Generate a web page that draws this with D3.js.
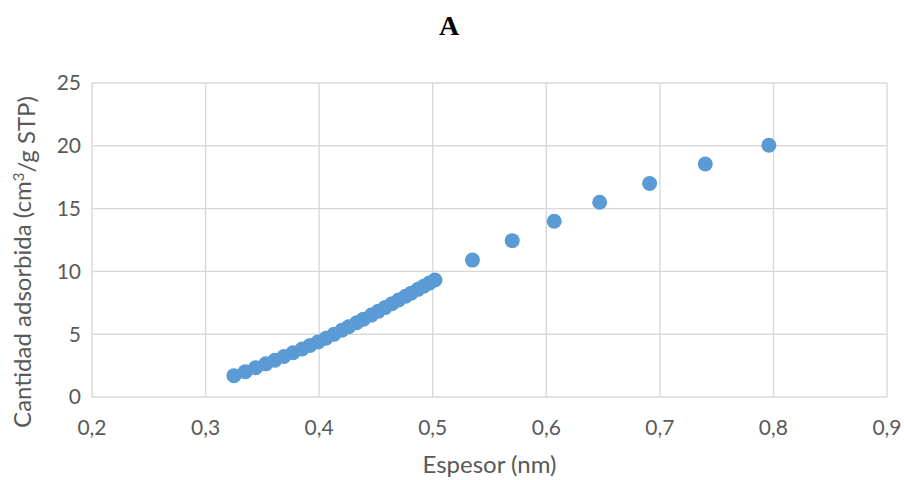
<!DOCTYPE html>
<html>
<head>
<meta charset="utf-8">
<script src="https://cdn.jsdelivr.net/npm/d3@7"></script>
<style>
  body { margin: 0; background: #fff; }
  svg { display: block; }
</style>
</head>
<body>
<svg id="chart"></svg>
<script>
// Chart data
const espesor = [
    0.325, 0.335, 0.344, 0.353, 0.361, 0.369, 0.377, 0.385, 0.392, 0.399,
    0.406, 0.413, 0.420, 0.426, 0.433, 0.439, 0.446, 0.452, 0.458, 0.464,
    0.470, 0.476, 0.481, 0.487, 0.492, 0.497, 0.502,
    0.535, 0.570, 0.607, 0.647, 0.691, 0.740, 0.796
];
const cantidad = [
    1.70, 2.02, 2.33, 2.64, 2.93, 3.22, 3.52, 3.82, 4.10, 4.38,
    4.68, 4.99, 5.31, 5.59, 5.91, 6.20, 6.52, 6.82, 7.12, 7.42,
    7.72, 8.02, 8.27, 8.57, 8.82, 9.07, 9.32,
    10.90, 12.45, 13.99, 15.50, 17.00, 18.55, 20.04
];
const xTicks = [0.2, 0.3, 0.4, 0.5, 0.6, 0.7, 0.8, 0.9];
const yTicks = [0, 5, 10, 15, 20, 25];

const width = 904;
const height = 480;
const margin = { top: 83, right: 17, bottom: 83, left: 92 };

const svg = d3.select("#chart")
    .attr("width", width)
    .attr("height", height);

const x = d3.scaleLinear()
    .domain([0.2, 0.9])
    .range([margin.left, width - margin.right]);

const y = d3.scaleLinear()
    .domain([0, 25])
    .range([height - margin.bottom, margin.top]);

const fmt = d => d3.format(".1f")(d).replace(".", ",");

// Grid lines
svg.append("g")
    .selectAll("line")
    .data(yTicks)
    .join("line")
    .attr("x1", x(0.2))
    .attr("x2", x(0.9))
    .attr("y1", d => y(d))
    .attr("y2", d => y(d))
    .attr("stroke", "#d9d9d9")
    .attr("stroke-width", 1.4);

svg.append("g")
    .selectAll("line")
    .data(xTicks)
    .join("line")
    .attr("x1", d => x(d))
    .attr("x2", d => x(d))
    .attr("y1", y(0))
    .attr("y2", y(25))
    .attr("stroke", "#d9d9d9")
    .attr("stroke-width", 1.4);

// Tick labels
svg.append("g")
    .selectAll("text")
    .data(yTicks)
    .join("text")
    .attr("x", x(0.2) - 11)
    .attr("y", d => y(d))
    .attr("dy", "0.35em")
    .attr("text-anchor", "end")
    .style("font-family", "Lato, sans-serif")
    .style("font-size", "21px")
    .style("fill", "#595959")
    .text(d => d);

svg.append("g")
    .selectAll("text")
    .data(xTicks)
    .join("text")
    .attr("x", d => x(d))
    .attr("y", y(0) + 38)
    .attr("text-anchor", "middle")
    .style("font-family", "Lato, sans-serif")
    .style("font-size", "21px")
    .style("fill", "#595959")
    .text(fmt);

// Points
svg.append("g")
    .selectAll("circle")
    .data(espesor.map((d, i) => [d, cantidad[i]]))
    .join("circle")
    .attr("cx", d => x(d[0]))
    .attr("cy", d => y(d[1]))
    .attr("r", 7.5)
    .attr("fill", "#5b9bd5");

// Title
svg.append("text")
    .attr("x", 449)
    .attr("y", 35)
    .attr("text-anchor", "middle")
    .style("font-family", "'Liberation Serif', 'Times New Roman', serif")
    .style("font-weight", "bold")
    .style("font-size", "28px")
    .style("fill", "#000")
    .text("A");

// Axis titles
svg.append("text")
    .attr("x", (x(0.2) + x(0.9)) / 2)
    .attr("y", 473)
    .attr("text-anchor", "middle")
    .style("font-family", "Lato, sans-serif")
    .style("font-size", "24px")
    .style("fill", "#595959")
    .text("Espesor (nm)");

const yTitle = svg.append("text")
    .attr("transform", `translate(31, ${(y(0) + y(25)) / 2 + 22}) rotate(-90)`)
    .attr("text-anchor", "middle")
    .style("font-family", "Lato, sans-serif")
    .style("font-size", "24px")
    .style("fill", "#595959");
yTitle.append("tspan").text("Cantidad adsorbida (cm");
yTitle.append("tspan").attr("dy", "-0.45em").style("font-size", "15px").text("3");
yTitle.append("tspan").attr("dy", "0.45em").text("/g STP)");
</script>
</body>
</html>
